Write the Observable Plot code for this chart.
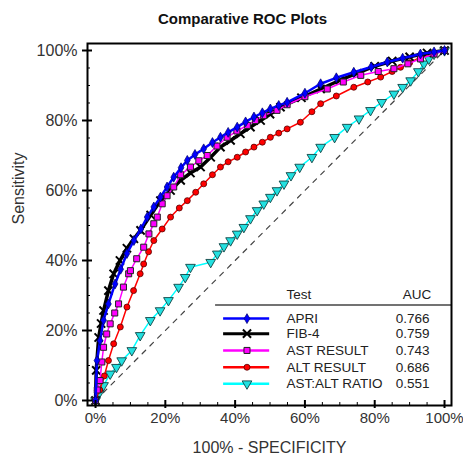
<!DOCTYPE html>
<html><head><meta charset="utf-8">
<script src="https://cdn.jsdelivr.net/npm/d3@7"></script>
<script src="https://cdn.jsdelivr.net/npm/@observablehq/plot@0.6"></script>
<style>body{margin:0;background:#fff;}</style>
</head><body><div id="chart"></div>
<script>
// ---- data ----
const apriFpr = [0,0.004,0.013,0.023,0.037,0.056,0.072,0.09,0.11,0.13,0.148,0.167,0.186,0.205,0.224,0.245,0.263,0.285,0.31,0.335,0.358,0.38,0.406,0.43,0.454,0.478,0.501,0.525,0.549,0.6,0.645,0.69,0.74,0.79,0.836,0.88,0.931,0.97,1];
const apriTpr = [0,0.114,0.171,0.229,0.276,0.333,0.375,0.42,0.457,0.49,0.524,0.553,0.581,0.61,0.638,0.665,0.686,0.703,0.719,0.737,0.752,0.766,0.781,0.796,0.81,0.822,0.833,0.843,0.852,0.878,0.905,0.922,0.938,0.953,0.967,0.978,0.99,0.996,1];

const fib4Fpr = [0,0.002,0.009,0.016,0.023,0.037,0.052,0.07,0.09,0.11,0.129,0.158,0.186,0.215,0.244,0.272,0.301,0.33,0.358,0.387,0.415,0.444,0.473,0.5,0.53,0.59,0.645,0.7,0.75,0.8,0.85,0.9,0.95,1];
const fib4Tpr = [0,0.086,0.18,0.22,0.257,0.314,0.362,0.4,0.435,0.462,0.486,0.53,0.571,0.6,0.629,0.65,0.667,0.695,0.724,0.743,0.762,0.781,0.8,0.818,0.838,0.865,0.89,0.915,0.935,0.955,0.97,0.982,0.993,1];

const astFpr = [0,0.005,0.013,0.018,0.023,0.032,0.042,0.055,0.066,0.08,0.095,0.1,0.118,0.138,0.153,0.167,0.177,0.191,0.205,0.224,0.244,0.272,0.296,0.32,0.348,0.377,0.405,0.435,0.458,0.482,0.52,0.549,0.6,0.664,0.71,0.76,0.81,0.855,0.895,0.931,0.97,1];
const astTpr = [0,0.03,0.057,0.11,0.152,0.19,0.219,0.25,0.276,0.324,0.362,0.371,0.405,0.438,0.476,0.505,0.524,0.562,0.585,0.61,0.645,0.667,0.685,0.7,0.727,0.752,0.77,0.786,0.8,0.814,0.829,0.845,0.868,0.89,0.91,0.929,0.94,0.948,0.962,0.976,0.99,1];

const altFpr = [0,0.012,0.025,0.037,0.052,0.071,0.09,0.109,0.128,0.138,0.152,0.167,0.191,0.215,0.24,0.263,0.287,0.31,0.335,0.358,0.38,0.406,0.43,0.454,0.478,0.501,0.525,0.549,0.587,0.62,0.645,0.69,0.74,0.78,0.817,0.85,0.874,0.9,0.931,0.965,1];
const altTpr = [0,0.03,0.07,0.114,0.162,0.21,0.267,0.314,0.362,0.39,0.425,0.457,0.49,0.524,0.55,0.571,0.595,0.619,0.645,0.667,0.682,0.695,0.71,0.724,0.738,0.752,0.764,0.776,0.795,0.825,0.848,0.87,0.895,0.91,0.924,0.94,0.952,0.965,0.981,0.99,1];

const ratioFpr = [0,0.01,0.023,0.042,0.06,0.075,0.104,0.128,0.157,0.185,0.209,0.238,0.257,0.272,0.33,0.349,0.368,0.387,0.406,0.425,0.444,0.463,0.482,0.501,0.52,0.54,0.56,0.585,0.62,0.645,0.685,0.721,0.755,0.788,0.82,0.855,0.88,0.903,0.925,0.941,0.955,0.97,1];
const ratioTpr = [0,0.02,0.043,0.076,0.095,0.114,0.143,0.186,0.229,0.257,0.286,0.324,0.352,0.381,0.395,0.419,0.44,0.457,0.476,0.495,0.52,0.543,0.562,0.581,0.6,0.619,0.643,0.667,0.695,0.724,0.752,0.781,0.805,0.829,0.852,0.876,0.895,0.914,0.94,0.962,0.976,0.99,1];

const testNames = ["APRI","FIB-4","AST RESULT","ALT RESULT","AST:ALT RATIO"];
const aucValues = ["0.766","0.759","0.743","0.686","0.551"];
const majorTicks = [0,0.2,0.4,0.6,0.8,1];
const minorTicks = [0.05,0.1,0.15,0.25,0.3,0.35,0.45,0.5,0.55,0.65,0.7,0.75,0.85,0.9,0.95];
const chanceLine = [0,1];

// ---- styles ----
const styles = {
  "APRI":          {line:"#0000ff", lw:2.5, symbol:"diamond", r:3,   fill:"#0000ff", stroke:"#000066", sw:0.7, rotate:0},
  "FIB-4":         {line:"#000000", lw:3.5, symbol:"times",   r:3.8, fill:"none",    stroke:"#000000", sw:2,   rotate:0},
  "AST RESULT":    {line:"#ff00ff", lw:1.5, symbol:"square",  r:3.4, fill:"#ff00ff", stroke:"#222222", sw:1,   rotate:0},
  "ALT RESULT":    {line:"#ff0000", lw:1.5, symbol:"circle",  r:3,   fill:"#ff0000", stroke:"#550000", sw:0.8, rotate:0},
  "AST:ALT RATIO": {line:"#00ffff", lw:1.5, symbol:"triangle",r:3.6, fill:"#22e0e0", stroke:"#114444", sw:0.9, rotate:180}
};
const seriesData = {
  "APRI": [apriFpr, apriTpr],
  "FIB-4": [fib4Fpr, fib4Tpr],
  "AST RESULT": [astFpr, astTpr],
  "ALT RESULT": [altFpr, altTpr],
  "AST:ALT RATIO": [ratioFpr, ratioTpr]
};
const drawOrder = ["AST:ALT RATIO","ALT RESULT","FIB-4","AST RESULT","APRI"];

// legend layout (data units)
const legX0 = 0.367, legX1 = 0.499, legMark = 0.434, legText = 0.547, legAuc = 0.86;
const legHeaderY = 0.303, legRuleY = 0.273, legRuleX0 = 0.344, legRuleX1 = 1.02;
const legRowY = [0.234, 0.191, 0.143, 0.095, 0.048];

const font = "'Liberation Sans', Arial, sans-serif";
const pct = d => Math.round(d*100) + "%";

const marks = [
  Plot.line(chanceLine.map(v => ({x:v, y:v})), {x:"x", y:"y", stroke:"#444", strokeWidth:1.2, strokeDasharray:"5,6"})
];
for (const name of drawOrder) {
  const [fx, ty] = seriesData[name];
  const s = styles[name];
  const pts = fx.map((f,i) => ({x:f, y:ty[i]}));
  marks.push(Plot.line(pts, {x:"x", y:"y", stroke:s.line, strokeWidth:s.lw, curve:"linear"}));
  marks.push(Plot.dot(pts, {x:"x", y:"y", symbol:() => s.symbol, r:s.r, fill:s.fill, stroke:s.stroke, strokeWidth:s.sw, rotate:s.rotate}));
}
// legend
marks.push(Plot.ruleY([legRuleY], {x1:legRuleX0, x2:legRuleX1, stroke:"#444", strokeWidth:1.5}));
marks.push(Plot.text(["Test"], {x:legText, y:legHeaderY, textAnchor:"start", lineAnchor:"middle", fontSize:13.5, fill:"#222", fontFamily:font}));
marks.push(Plot.text(["AUC"], {x:legAuc+0.02, y:legHeaderY, textAnchor:"start", lineAnchor:"middle", fontSize:13.5, fill:"#222", fontFamily:font}));
testNames.forEach((name, i) => {
  const s = styles[name];
  const y = legRowY[i];
  marks.push(Plot.ruleY([y], {x1:legX0, x2:legX1, stroke:s.line, strokeWidth:name==="FIB-4"?3:2.5}));
  marks.push(Plot.dot([{x:legMark, y}], {x:"x", y:"y", symbol:() => s.symbol, r:s.r, fill:s.fill, stroke:s.stroke, strokeWidth:s.sw, rotate:s.rotate}));
  marks.push(Plot.text([name], {x:legText, y, textAnchor:"start", lineAnchor:"middle", fontSize:13.5, fill:"#222", fontFamily:font}));
  marks.push(Plot.text([aucValues[i]], {x:legAuc, y, textAnchor:"start", lineAnchor:"middle", fontSize:13.5, fill:"#222", fontFamily:font}));
});
// frame and axes
marks.push(Plot.frame({stroke:"#000", strokeWidth:2}));
marks.push(Plot.axisY({ticks:majorTicks, tickFormat:pct, tickSize:10, dx:5, tickPadding:5, strokeWidth:2, fontSize:16, fill:"#333", label:null}));
marks.push(Plot.axisY({ticks:minorTicks, tickFormat:null, text:null, tickSize:3, dx:3, strokeWidth:1, label:null}));
marks.push(Plot.axisX({ticks:majorTicks, tickFormat:pct, tickSize:8, dy:-5, tickPadding:4, strokeWidth:2, fontSize:15, fill:"#333", label:null}));
marks.push(Plot.axisX({ticks:minorTicks, tickFormat:null, text:null, tickSize:3, dy:-3, strokeWidth:1, label:null}));
// labels
marks.push(Plot.text(["100% - SPECIFICITY"], {frameAnchor:"bottom", dy:42.5, lineAnchor:"middle", fontSize:16, fill:"#333", fontFamily:font}));
marks.push(Plot.text(["Sensitivity"], {frameAnchor:"left", dx:-68.5, rotate:-90, lineAnchor:"middle", fontSize:16, fill:"#333", fontFamily:font}));
marks.push(Plot.text(["Comparative ROC Plots"], {frameAnchor:"top", dy:-24.5, dx:-27, lineAnchor:"middle", fontSize:15, fontWeight:"bold", fill:"#111", fontFamily:font, letterSpacing:"1.5px"}));

const chart = Plot.plot({
  width: 463, height: 455,
  marginLeft: 87, marginRight: 12, marginTop: 43, marginBottom: 50,
  style: {fontFamily: font, background: "#fff"},
  x: {domain: [-0.023, 1.02], axis: null},
  y: {domain: [-0.0143, 1.02], axis: null},
  marks
});
document.getElementById("chart").appendChild(chart);
</script>
</body></html>
